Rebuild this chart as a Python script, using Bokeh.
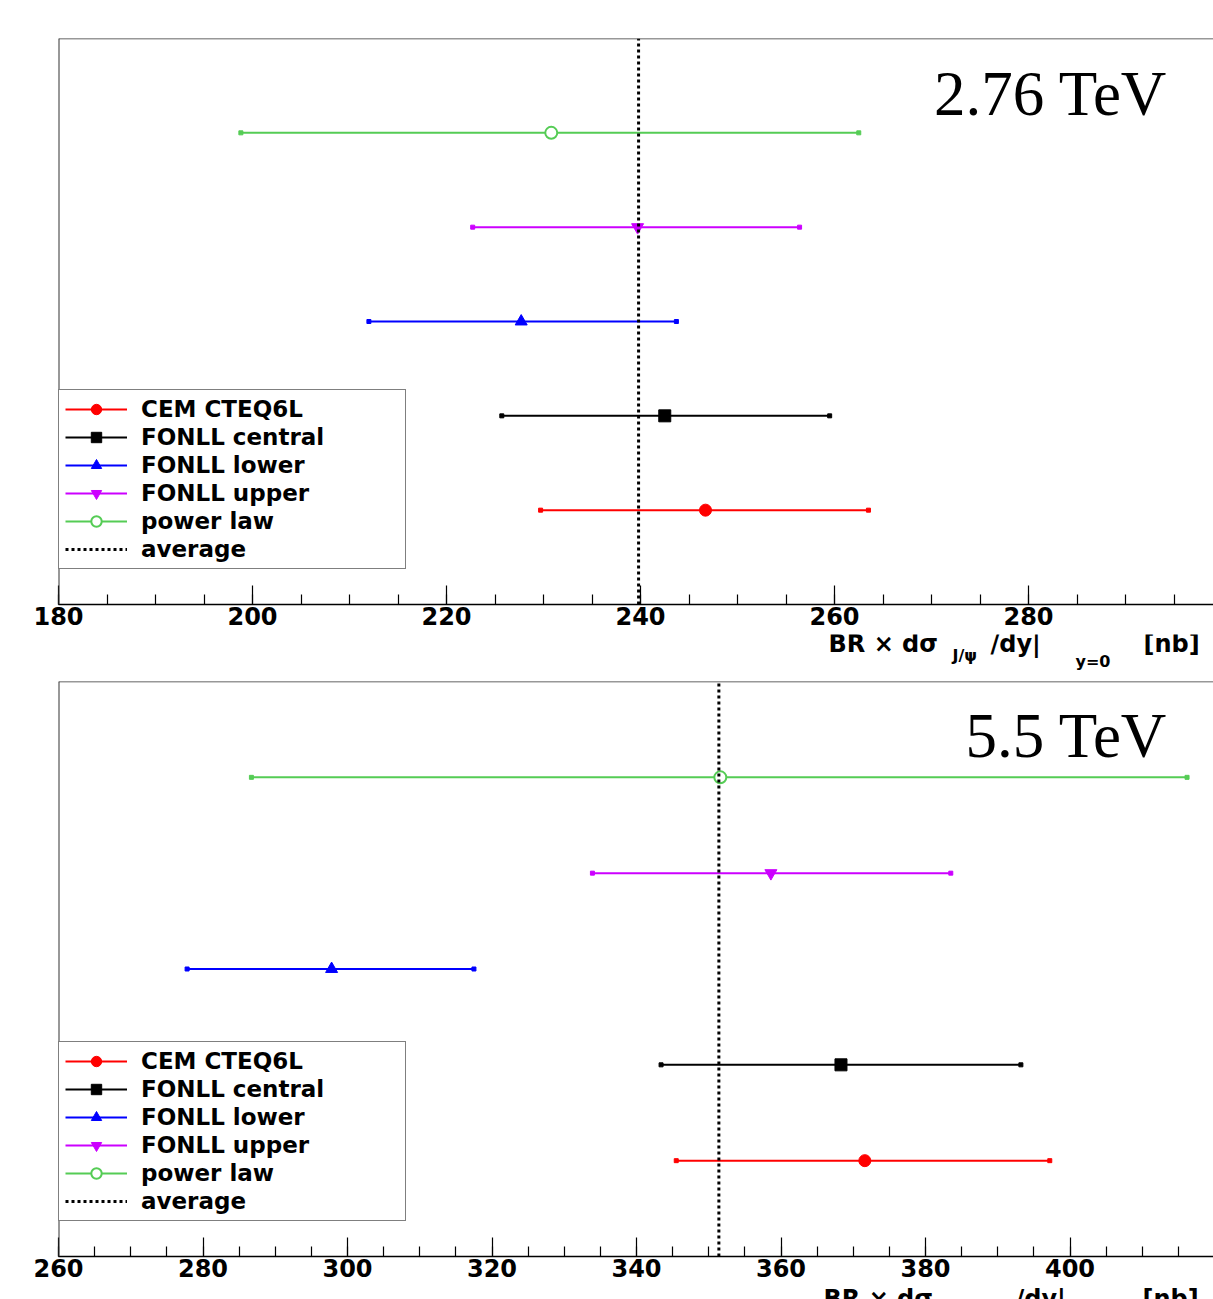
from bokeh.plotting import figure
from bokeh.models import (Range1d, SingleIntervalTicker, Legend, LegendItem,
                          Label, Span, ColumnDataSource)
from bokeh.layouts import column
from bokeh.embed import file_html
from bokeh.resources import INLINE

# ---------------- data ----------------
labels = ["CEM CTEQ6L", "FONLL central", "FONLL lower", "FONLL upper", "power law"]
rows = [1, 2, 3, 4, 5]

central_276 = [246.7, 242.5, 227.7, 239.7, 230.8]
low_276 = [229.7, 225.7, 212.0, 222.7, 198.8]
high_276 = [263.5, 259.5, 243.7, 256.4, 262.5]
avg_276 = 239.8

central_55 = [371.6, 368.3, 297.8, 358.6, 351.6]
low_55 = [345.5, 343.4, 277.8, 333.9, 286.7]
high_55 = [397.2, 393.2, 317.5, 383.5, 416.2]
avg_55 = 351.4

energy_labels = ["2.76 TeV", "5.5 TeV"]
title_parts = ["BR \u00d7 d\u03c3", "J/\u03c8", "/dy|", "y=0", "[nb]"]

# ---------------- styles ----------------
colors = ["#ff0000", "#000000", "#0000ff", "#cc00ff", "#55cc55"]
markers = ["circle", "square", "triangle", "inverted_triangle", "circle"]
fills = ["#ff0000", "#000000", "#0000ff", "#cc00ff", "#ffffff"]

FONT = "DejaVu Sans"
W = 1213
LEFT = 58


def make_panel(central, low, high, avg, x_start, x_end, energy, height,
               top_border, bottom_border, energy_y):
    p = figure(width=W, height=height,
               x_range=Range1d(x_start, x_end), y_range=Range1d(0, 6),
               output_backend="svg", toolbar_location=None,
               min_border_left=LEFT, min_border_right=0,
               min_border_top=top_border, min_border_bottom=bottom_border)
    p.outline_line_color = None
    p.xgrid.visible = False
    p.ygrid.visible = False
    p.yaxis.visible = False

    ax = p.xaxis[0]
    ax.ticker = SingleIntervalTicker(interval=20, num_minor_ticks=4)
    ax.major_tick_in = 19
    ax.major_tick_out = 0
    ax.minor_tick_in = 10
    ax.minor_tick_out = 0
    ax.axis_line_width = 1.5
    ax.major_tick_line_width = 1.2
    ax.minor_tick_line_width = 1.2
    ax.major_label_standoff = 2
    ax.major_label_text_font = FONT
    ax.major_label_text_font_style = "bold"
    ax.major_label_text_font_size = "24px"
    ax.major_label_text_color = "black"

    # frame top and left borders
    p.add_layout(Span(location=6, dimension="width", line_color="#333333", line_width=1.5))
    p.add_layout(Span(location=x_start, dimension="height", line_color="#333333", line_width=2))

    items = []
    for i in range(len(labels)):
        src = ColumnDataSource(dict(x=[central[i]], lo=[low[i]], hi=[high[i]], y=[rows[i]]))
        seg = p.segment(x0="lo", y0="y", x1="hi", y1="y", line_color=colors[i],
                        line_width=2, source=src)
        p.scatter(x=[low[i], high[i]], y=[rows[i], rows[i]], marker="square", size=4,
                  color=colors[i])
        mk = p.scatter("x", "y", marker=markers[i], size=12, fill_color=fills[i],
                       line_color=colors[i], line_width=2 if i == 4 else 1, source=src)
        items.append(LegendItem(label=labels[i], renderers=[seg, mk]))

    av = p.line(x=[avg, avg], y=[0, 6], line_color="black", line_width=3, line_dash="3 3")
    items.append(LegendItem(label="average", renderers=[av]))

    legend = Legend(items=items, location=(0, 35), border_line_color="black",
                    border_line_width=1, background_fill_color="white",
                    background_fill_alpha=1.0,
                    label_text_font=FONT, label_text_font_style="bold",
                    label_text_font_size="23px", label_text_color="black",
                    glyph_width=62, glyph_height=26,
                    label_height=26, spacing=2, padding=6, label_standoff=14,
                    label_width=258, margin=0)
    p.add_layout(legend)

    p.add_layout(Label(x=1109, y=energy_y, x_units="screen", y_units="screen",
                       text=energy, text_font="Liberation Serif",
                       text_font_size="63px", text_align="right",
                       text_baseline="alphabetic", text_color="black"))
    return p


def make_title_strip(height, xs, ys):
    t = figure(width=W, height=height, output_backend="svg", toolbar_location=None,
               x_range=Range1d(0, 1), y_range=Range1d(0, 1),
               min_border_left=LEFT, min_border_right=0, min_border_top=0,
               min_border_bottom=0)
    t.outline_line_color = None
    t.axis.visible = False
    t.grid.visible = False
    sizes = ["24px", "16px", "24px", "16px", "24px"]
    for txt, xx, yy, fs in zip(title_parts, xs, ys, sizes):
        t.add_layout(Label(x=xx - LEFT, y=yy, x_units="screen", y_units="screen", text=txt,
                           text_font=FONT, text_font_style="bold",
                           text_font_size=fs, text_baseline="top",
                           text_color="black"))
    return t


p1 = make_panel(central_276, low_276, high_276, avg_276, 180, 299.07, energy_labels[0],
                height=634, top_border=38, bottom_border=30, energy_y=511)
t1 = make_title_strip(46, xs=(828, 952, 990, 1075, 1143), ys=(51, 35, 51, 29, 51))
p2 = make_panel(central_55, low_55, high_55, avg_55, 260, 419.86, energy_labels[1],
                height=606, top_border=1, bottom_border=30, energy_y=521)
t2 = make_title_strip(13, xs=(823, 975, 1015, 1105, 1142), ys=(15, -1, 15, -7, 15))

layout = column(p1, t1, p2, t2)
open("out.html", "w").write(file_html(layout, INLINE))
